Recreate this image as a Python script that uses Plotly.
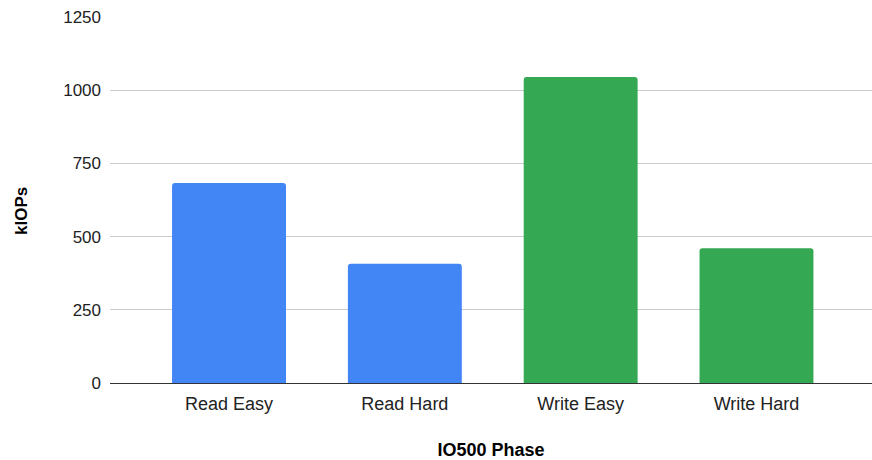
import plotly.graph_objects as go

# IO500 phase throughput
phases = ["Read Easy", "Read Hard", "Write Easy", "Write Hard"]
kiops = [683, 407, 1045, 460]
bar_colors = ["#4285F4", "#4285F4", "#34A853", "#34A853"]
y_ticks = [0, 250, 500, 750, 1000, 1250]

FONT = "Liberation Sans, Arial, sans-serif"

fig = go.Figure(
    go.Bar(
        x=phases,
        y=kiops,
        marker=dict(color=bar_colors, cornerradius=3, line=dict(width=0)),
        width=0.648,
    )
)

fig.update_layout(
    width=872,
    height=460,
    margin=dict(l=110, r=0, t=17, b=77),
    paper_bgcolor="white",
    plot_bgcolor="white",
    showlegend=False,
    font=dict(family=FONT, color="#222222"),
)

fig.update_xaxes(
    range=[-0.677, 3.657],
    automargin=False,
    showgrid=False,
    showline=False,
    ticks="",
    ticklabelstandoff=8,
    tickfont=dict(size=18, color="#222222"),
    title=dict(text="<b>IO500 Phase</b>", font=dict(size=18, color="#000000"), standoff=42),
)

fig.update_yaxes(
    range=[0, 1250],
    tickvals=y_ticks,
    automargin=False,
    showgrid=True,
    gridcolor="#cccccc",
    gridwidth=1,
    zeroline=True,
    zerolinecolor="#333333",
    zerolinewidth=1,
    showline=False,
    ticks="",
    ticklabelstandoff=8,
    tickfont=dict(size=17, color="#222222"),
)

# Vertical axis title, placed left of the tick labels
fig.add_annotation(
    text="<b>kIOPs</b>",
    textangle=-90,
    xref="paper",
    yref="paper",
    x=-0.1155,
    y=0.47,
    xanchor="center",
    yanchor="middle",
    showarrow=False,
    font=dict(family=FONT, size=17, color="#000000"),
)

fig.write_html("out.html")
